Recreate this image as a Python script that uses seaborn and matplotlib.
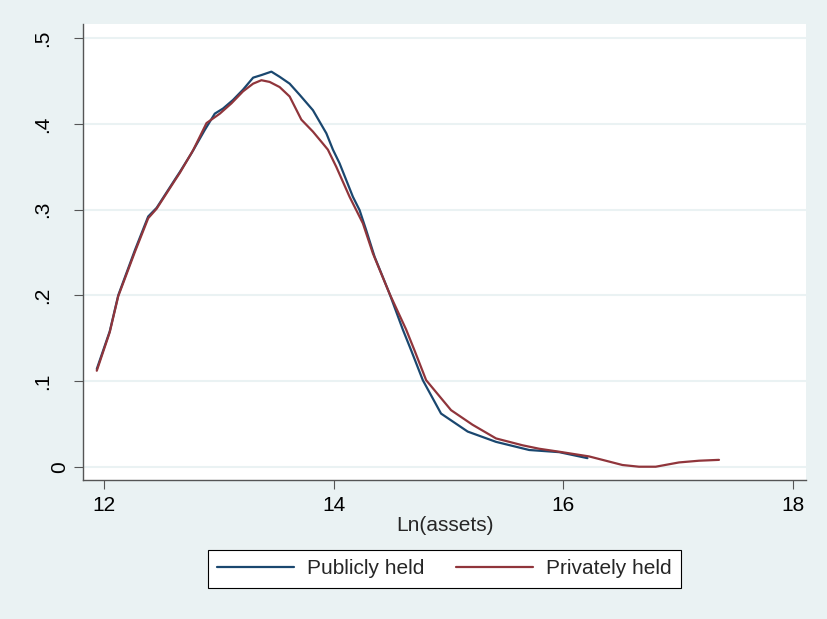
import pandas as pd
import matplotlib
matplotlib.use("Agg")
import matplotlib.pyplot as plt
import matplotlib.transforms as mtransforms
import seaborn as sns

# kernel density curves
public_x = [11.937, 12.05, 12.124, 12.27, 12.385, 12.458, 12.617, 12.661, 12.763, 12.878,
            12.965, 13.037, 13.124, 13.211, 13.299, 13.371, 13.458, 13.530, 13.617, 13.704,
            13.82, 13.937, 13.994, 14.052, 14.168, 14.226, 14.284, 14.357, 14.487, 14.603,
            14.675, 14.777, 14.936, 15.168, 15.415, 15.704, 15.965, 16.211]
public_y = [0.114, 0.158, 0.200, 0.253, 0.292, 0.302, 0.335, 0.344, 0.366, 0.393,
            0.412, 0.418, 0.428, 0.440, 0.454, 0.457, 0.461, 0.455, 0.447, 0.434,
            0.416, 0.389, 0.370, 0.354, 0.315, 0.2995, 0.276, 0.245, 0.202, 0.160,
            0.136, 0.101, 0.062, 0.041, 0.029, 0.0195, 0.017, 0.010]

private_x = [11.937, 12.05, 12.124, 12.27, 12.385, 12.458, 12.617, 12.661, 12.777, 12.893,
             13.009, 13.11, 13.211, 13.299, 13.371, 13.443, 13.53, 13.617, 13.719, 13.82,
             13.907, 13.95, 14.023, 14.139, 14.197, 14.255, 14.342, 14.487, 14.632, 14.704,
             14.806, 15.023, 15.21, 15.415, 15.646, 15.79, 15.965, 16.226, 16.516, 16.66,
             16.806, 17.009, 17.183, 17.357]
private_y = [0.112, 0.157, 0.199, 0.251, 0.290, 0.301, 0.334, 0.343, 0.3695, 0.401,
             0.412, 0.424, 0.438, 0.447, 0.451, 0.449, 0.443, 0.432, 0.405, 0.391,
             0.377, 0.370, 0.350, 0.315, 0.2995, 0.284, 0.249, 0.202, 0.160, 0.136,
             0.101, 0.066, 0.049, 0.033, 0.025, 0.021, 0.0175, 0.012, 0.002, 0.0,
             0.0, 0.005, 0.007, 0.008]

x_ticks = [12, 14, 16, 18]
y_ticks = [0, 0.1, 0.2, 0.3, 0.4, 0.5]
y_labels = ["0", ".1", ".2", ".3", ".4", ".5"]

bg = "#EAF2F3"
navy = "#1A476F"
maroon = "#90353B"

sns.set_theme(style="white")
plt.rcParams["font.family"] = ["Liberation Sans", "DejaVu Sans"]

fig = plt.figure(figsize=(8.27, 6.19), dpi=100, facecolor=bg)
ax = fig.add_axes([83 / 827, 1 - 480 / 619, (806 - 83) / 827, (480 - 24) / 619])
ax.set_facecolor("white")

sns.lineplot(x=public_x, y=public_y, color=navy, lw=1.6, label="Publicly held", ax=ax)
sns.lineplot(x=private_x, y=private_y, color=maroon, lw=1.6, label="Privately held", ax=ax)

ax.set_xlim(11.817, 18.115)
ax.set_ylim(-0.0155, 0.5166)
ax.set_xticks(x_ticks)
ax.set_yticks(y_ticks)
ax.set_yticklabels(y_labels, rotation=90, va="center")
ax.yaxis.grid(True, color=bg, lw=1.5)
ax.xaxis.grid(False)
ax.set_axisbelow(True)

for s in ["top", "right"]:
    ax.spines[s].set_visible(False)
for s in ["left", "bottom"]:
    ax.spines[s].set_color("#555555")
    ax.spines[s].set_linewidth(1.0)

ax.tick_params(axis="both", which="major", direction="out", length=6.5, width=0.8,
               color="#555555", labelsize=15, labelcolor="black")
ax.tick_params(axis="y", pad=16)
ax.tick_params(axis="x", pad=5)
ax.tick_params(left=True, bottom=True)

# Stata puts the "0" label closer to the axis
for lab in ax.get_yticklabels():
    if lab.get_text() == "0":
        lab.set_transform(lab.get_transform() +
                          mtransforms.ScaledTranslation(0.17, 0, fig.dpi_scale_trans))

ax.set_xlabel("Ln(assets)", fontsize=15, labelpad=1)
ax.set_ylabel("")

leg = ax.legend(loc="center", bbox_to_anchor=(444.5 / 827, 1 - 569 / 619),
                bbox_transform=fig.transFigure, ncol=2, fontsize=15, frameon=True,
                fancybox=False, edgecolor="black", facecolor="white", framealpha=1,
                handlelength=3.7, handletextpad=0.62, columnspacing=1.5, borderpad=0.45)
leg.get_frame().set_linewidth(0.8)

fig.savefig("out.png", dpi=100, facecolor=bg)
